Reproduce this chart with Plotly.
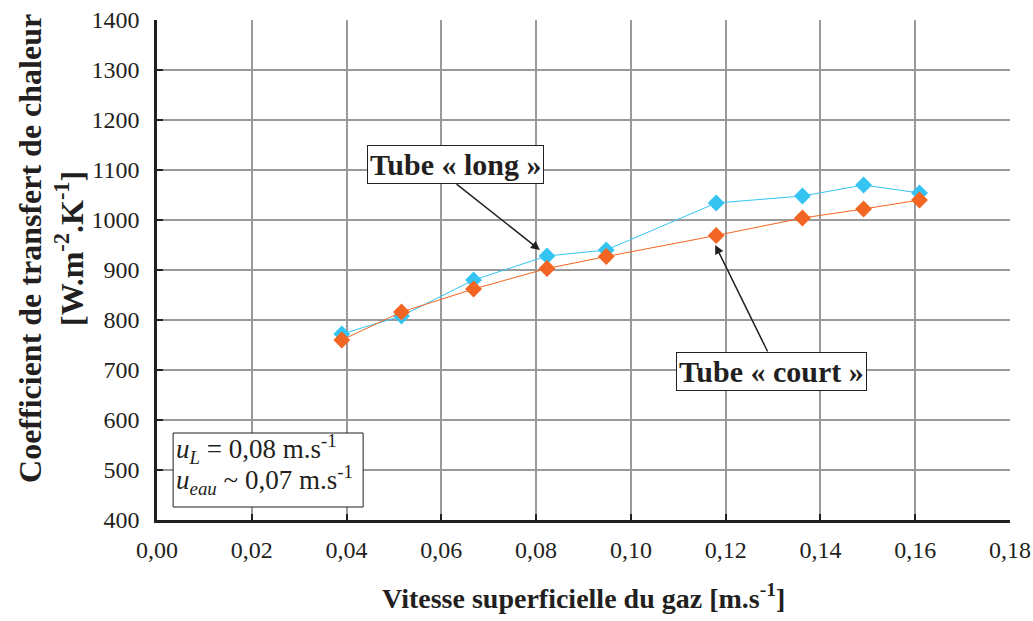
import plotly.graph_objects as go

x_long = [0.039, 0.0516, 0.0668, 0.0823, 0.0948, 0.118, 0.1362, 0.1491, 0.1609]
y_long = [772, 808, 880, 928, 940, 1034, 1048, 1070, 1054]
x_court = [0.039, 0.0516, 0.0668, 0.0823, 0.0948, 0.118, 0.1362, 0.1491, 0.1609]
y_court = [760, 816, 862, 903, 927, 969, 1004, 1022, 1040]

BLUE = "#35C4F2"
ORANGE = "#F26522"
FONT = "Liberation Serif"
INK = "#231F20"

fig = go.Figure()
fig.add_trace(go.Scatter(x=x_long, y=y_long, mode="lines+markers",
                         line=dict(color=BLUE, width=1),
                         marker=dict(symbol="diamond", size=13, color=BLUE),
                         name="Tube « long »"))
fig.add_trace(go.Scatter(x=x_court, y=y_court, mode="lines+markers",
                         line=dict(color=ORANGE, width=1),
                         marker=dict(symbol="diamond", size=13, color=ORANGE),
                         name="Tube « court »"))

fig.update_layout(
    width=1033, height=621,
    margin=dict(l=157, r=23, t=20, b=101),
    paper_bgcolor="white", plot_bgcolor="white",
    showlegend=False,
    separators=", ",
    font=dict(family=FONT, size=24, color=INK),
)
fig.update_xaxes(range=[0, 0.18], dtick=0.02, tick0=0, tickformat=".2f",
                 showgrid=True, gridcolor="#9A9A9A", gridwidth=1.5,
                 showline=True, linecolor=INK, linewidth=2.5,
                 ticks="inside", ticklen=6, tickcolor=INK, tickwidth=2,
                 ticklabelstandoff=6, ticklabeloverflow="allow", automargin=False,
                 zeroline=False, tickfont=dict(size=24))
fig.update_yaxes(range=[400, 1400], dtick=100, tick0=400, tickformat="d",
                 showgrid=True, gridcolor="#9A9A9A", gridwidth=1.5,
                 showline=True, linecolor=INK, linewidth=2.5,
                 ticks="inside", ticklen=6, tickcolor=INK, tickwidth=2,
                 ticklabelstandoff=10, ticklabeloverflow="allow", automargin=False,
                 zeroline=False, tickfont=dict(size=24))

ann = []
# axis titles
ann.append(dict(xref="paper", yref="paper", x=0.5, y=-0.153, xanchor="center", yanchor="middle",
                text="<b>Vitesse superficielle du gaz [m.s<sup>-1</sup>]</b>", showarrow=False,
                font=dict(size=28)))
ann.append(dict(xref="paper", yref="paper", x=-0.1243, y=0.544, xanchor="center", yanchor="middle",
                textangle=-90,
                text="<b>Coefficient de transfert de chaleur<br>[W.m<sup>-2</sup>.K<sup>-1</sup>]</b>",
                showarrow=False, font=dict(size=32)))
# labels
ann.append(dict(xref="x", yref="y", x=0.0629, y=1112, text="<b>Tube « long »</b>", showarrow=False,
                bgcolor="white", bordercolor=INK, borderwidth=1, borderpad=2,
                font=dict(size=30)))
ann.append(dict(xref="x", yref="y", x=0.1296, y=698, text="<b>Tube « court »</b>", showarrow=False,
                bgcolor="white", bordercolor=INK, borderwidth=1, borderpad=2,
                font=dict(size=30)))
# arrows
ann.append(dict(xref="x", yref="y", axref="x", ayref="y", x=0.0808, y=940, ax=0.0629, ay=1074,
                text="", showarrow=True, arrowhead=2, arrowsize=1.2, arrowwidth=1.5, arrowcolor=INK))
ann.append(dict(xref="x", yref="y", axref="x", ayref="y", x=0.1178, y=950, ax=0.129, ay=734,
                text="", showarrow=True, arrowhead=2, arrowsize=1.2, arrowwidth=1.5, arrowcolor=INK))
# info box
fig.add_shape(type="rect", xref="x", yref="y", x0=0.0034, x1=0.0435, y0=426, y1=574,
              line=dict(color=INK, width=1), fillcolor="white", layer="above")
ann.append(dict(xref="x", yref="y", x=0.0036, y=542, xanchor="left", yanchor="middle", align="left",
                text="<i>u<sub>L</sub></i> = 0,08 m.s<sup>-1</sup>",
                showarrow=False, font=dict(size=27)))
ann.append(dict(xref="x", yref="y", x=0.0036, y=480, xanchor="left", yanchor="middle", align="left",
                text="<i>u<sub>eau</sub></i> ~ 0,07 m.s<sup>-1</sup>",
                showarrow=False, font=dict(size=27)))
fig.update_layout(annotations=ann)

fig.write_html(
    "out.html",
    config={"displayModeBar": False},
    post_script="document.body.style.margin='0';",
)
